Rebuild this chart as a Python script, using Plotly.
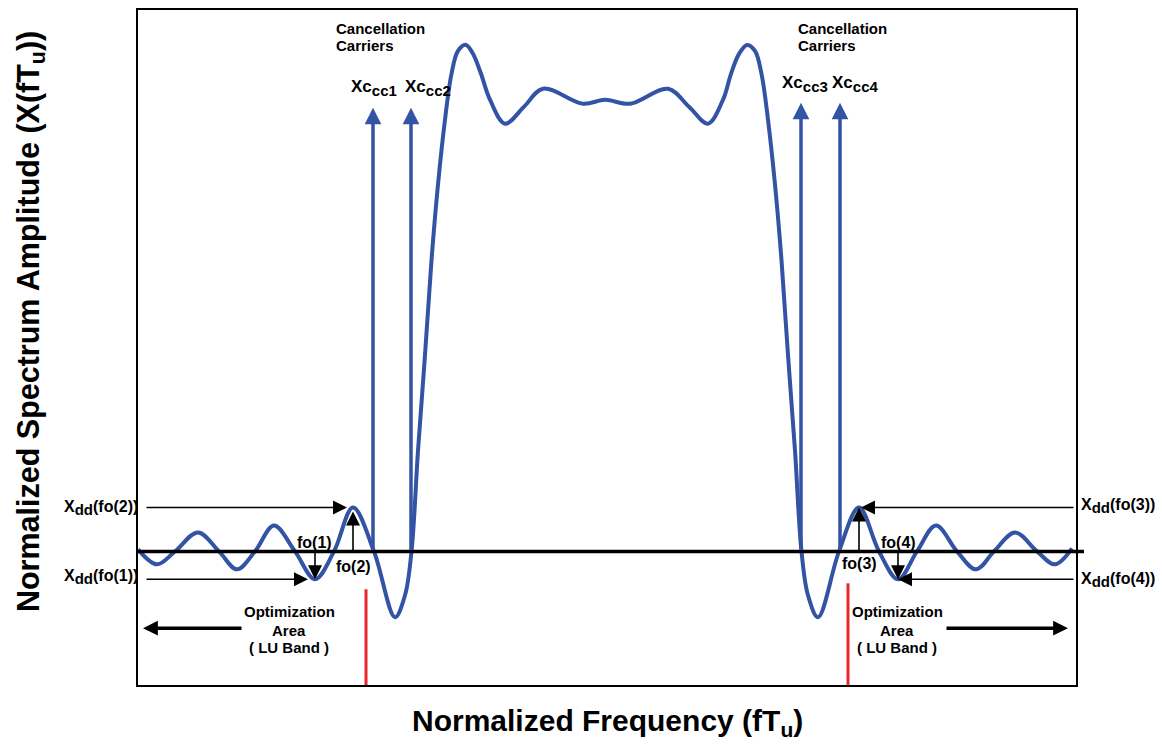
import plotly.graph_objects as go

# ---------------- data ----------------
# normalized frequency (fT_u) and normalized spectrum amplitude
freq = [-11.725, -11.25, -10.8, -10.225, -9.7, -9.25, -8.8, -8.325, -7.8, -7.3,
        -6.825, -6.35, -5.825, -5.3, -5.05, -4.8875, -4.725, -4.55, -4.3875, -4.225,
        -4.05, -3.8875, -3.725, -3.525, -3.35, -3.15, -2.925, -2.55, -2.075,
        -1.6, -0.6, -0.05, 0.575, 1.525, 2.05, 2.525, 2.9, 3.1, 3.3,
        3.5, 3.7, 3.8625, 4.025, 4.2, 4.3625, 4.525, 4.7, 4.8625, 5.025,
        5.275, 5.8, 6.3, 6.8, 7.275, 7.75, 8.225, 8.75, 9.225,
        9.675, 10.2, 10.75, 11.2, 11.625]
amp = [0.004, -0.026, 0.0, 0.038, 0.0, -0.036, 0.0, 0.052, 0.0, -0.056,
       0.0, 0.088, 0.0, -0.132, -0.088, 0.0, 0.202, 0.394, 0.584, 0.736,
       0.866, 0.958, 1.004, 1.016, 0.998, 0.958, 0.906, 0.858, 0.892,
       0.928, 0.898, 0.906, 0.898, 0.928, 0.892, 0.858, 0.906, 0.958, 0.998,
       1.016, 1.004, 0.958, 0.866, 0.736, 0.584, 0.394, 0.202, 0.0, -0.088,
       -0.132, 0.0, 0.088, 0.0, -0.056, 0.0, 0.052, 0.0, -0.036,
       0.0, 0.038, 0.0, -0.026, 0.006]

# cancellation carriers
cc_labels = ["cc1", "cc2", "cc3", "cc4"]
cc_freq = [-5.85, -4.9, 4.85, 5.825]
cc_amp = [0.89, 0.89, 0.90, 0.90]

# optimisation points fo(1)..fo(4)
fo_labels = ["fo(1)", "fo(2)", "fo(3)", "fo(4)"]
fo_freq = [-7.3, -6.35, 6.3, 7.275]
fo_amp = [-0.056, 0.088, 0.088, -0.056]

# LU band edges
band_edges = [-6.025, 6.025]

BLUE = "#3353a4"
RED = "#e8262b"
FONT = "Liberation Sans, Arial, sans-serif"

# helpers for label positions (pixel -> paper / data)
L, R, T, B = 138, 1076, 8, 685
def PX(px):
    return (px - L) / (R - L)
def PY(py):
    return (B - py) / (B - T)
def DX(px):
    return (px - 607) / 40.0
def DY(py):
    return (551 - py) * 0.002

fig = go.Figure()
fig.add_trace(go.Scatter(x=freq, y=amp, mode="lines",
                         line=dict(color=BLUE, width=4, shape="spline", smoothing=1.0),
                         hoverinfo="skip", showlegend=False))

shapes = []
# zero line
shapes.append(dict(type="line", xref="paper", yref="y", x0=0, x1=PX(1084), y0=0, y1=0,
                   line=dict(color="black", width=3.5), layer="above"))
# red band edges
for be, top in zip(band_edges, [589, 583]):
    shapes.append(dict(type="line", xref="x", yref="paper", x0=be, x1=be, y0=0,
                       y1=PY(top), line=dict(color=RED, width=3), layer="above"))

ann = []
# carrier arrows
for f, a in zip(cc_freq, cc_amp):
    ann.append(dict(x=f, y=a, ax=f, ay=0, xref="x", yref="y", axref="x", ayref="y",
                    text="", showarrow=True, arrowhead=2, arrowsize=0.95,
                    arrowwidth=3.5, arrowcolor=BLUE))
# carrier labels
cc_pos = [(374, 86), (428, 86), (805, 82), (855, 82)]
for lab, (px, py) in zip(cc_labels, cc_pos):
    ann.append(dict(x=PX(px), y=PY(py), xref="paper", yref="paper", showarrow=False,
                    text="<b>Xc<sub><span style='font-size:15px'>%s</span></sub></b>" % lab,
                    font=dict(family=FONT, size=17, color="black"),
                    xanchor="center", yanchor="middle"))
# Cancellation carriers text
for px in [334, 796]:
    for line, py in [("Cancellation", 27), ("Carriers", 44)]:
        ann.append(dict(x=PX(px), y=PY(py), xref="paper", yref="paper", showarrow=False,
                        text="<b>%s</b>" % line, font=dict(family=FONT, size=15, color="black"),
                        xanchor="left", yanchor="middle"))

# vertical fo arrows
fo_stand = [0, 4, 0, 0]
for f, a, s in zip(fo_freq, fo_amp, fo_stand):
    ann.append(dict(x=f, y=a, ax=f, ay=0, xref="x", yref="y", axref="x", ayref="y",
                    text="", showarrow=True, arrowhead=2, arrowsize=1.75, standoff=s,
                    arrowwidth=1.6, arrowcolor="black"))
fo_pos = [(314, 542), (353, 566), (859, 563), (898, 542)]
for lab, (px, py) in zip(fo_labels, fo_pos):
    ann.append(dict(x=PX(px), y=PY(py), xref="paper", yref="paper", showarrow=False,
                    text="<b>%s</b>" % lab, font=dict(family=FONT, size=16, color="black"),
                    xanchor="center", yanchor="middle"))

# horizontal Xdd arrows
h_tail = [DX(145), DX(145), DX(1075), DX(1075)]
h_stand = [6, 7, 2, 0]
order = [1, 0, 2, 3]  # fo(2), fo(1) on left; fo(3), fo(4) on right
for k, i in enumerate(order):
    ann.append(dict(x=fo_freq[i], y=fo_amp[i], ax=h_tail[k], ay=fo_amp[i],
                    xref="x", yref="y", axref="x", ayref="y",
                    text="", showarrow=True, arrowhead=2, arrowsize=1.75, standoff=h_stand[k],
                    arrowwidth=1.6, arrowcolor="black"))
xdd_pos = [(140, 507, "right", "fo(2)"), (140, 577, "right", "fo(1)"),
           (1079, 505, "left", "fo(3)"), (1079, 580, "left", "fo(4)")]
for px, py, anc, lab in xdd_pos:
    ann.append(dict(x=PX(px), y=PY(py), xref="paper", yref="paper", showarrow=False,
                    text="<b>X<sub><span style='font-size:15px'>dd</span></sub>(%s)</b>" % lab,
                    font=dict(family=FONT, size=16, color="black"),
                    xanchor=anc, yanchor="middle"))

# Optimization area text and arrows
for cx in [289, 897]:
    for line, py in [("Optimization", 611), ("Area", 630), ("( LU Band )", 647)]:
        ann.append(dict(x=PX(cx), y=PY(py), xref="paper", yref="paper", showarrow=False,
                        text="<b>%s</b>" % line, font=dict(family=FONT, size=15, color="black"),
                        xanchor="center", yanchor="middle"))
for tail, head in [(243, 143), (945, 1068)]:
    ann.append(dict(x=DX(head), y=DY(628), ax=DX(tail), ay=DY(628),
                    xref="x", yref="y", axref="x", ayref="y",
                    text="", showarrow=True, arrowhead=2, arrowsize=0.85,
                    arrowwidth=3.5, arrowcolor="black"))

# axis titles
ann.append(dict(x=PX(607), y=PY(723), xref="paper", yref="paper", showarrow=False,
                text="<b>Normalized Frequency (fT<sub>u</sub>)</b>",
                font=dict(family=FONT, size=30, color="black"),
                xanchor="center", yanchor="middle"))
ann.append(dict(x=PX(30), y=PY(321), xref="paper", yref="paper", showarrow=False,
                text="<b>Normalized Spectrum Amplitude (X(fT<sub>u</sub>))</b>",
                font=dict(family=FONT, size=30.5, color="black"), textangle=-90,
                xanchor="center", yanchor="middle"))

fig.update_layout(
    width=1162, height=744, autosize=False,
    margin=dict(l=L, r=1162 - R, t=T, b=744 - B),
    paper_bgcolor="white", plot_bgcolor="white",
    shapes=shapes, annotations=ann, showlegend=False,
    xaxis=dict(range=[DX(L), DX(R)], showgrid=False, zeroline=False, showticklabels=False,
               ticks="", showline=True, mirror=True, linecolor="black", linewidth=1.5,
               fixedrange=True),
    yaxis=dict(range=[DY(B), DY(T)], showgrid=False, zeroline=False, showticklabels=False,
               ticks="", showline=True, mirror=True, linecolor="black", linewidth=1.5,
               fixedrange=True),
)

fig.write_html("out.html", config={"displayModeBar": False})
